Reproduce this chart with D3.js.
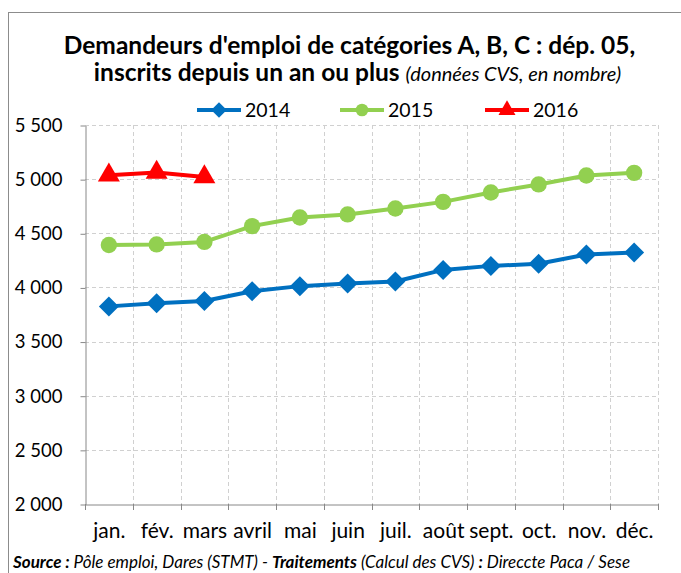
<!DOCTYPE html>
<html>
<head>
<meta charset="utf-8">
<script src="https://cdn.jsdelivr.net/npm/d3@7"></script>
<style>
  body { margin: 0; background: #fff; }
  text { font-family: Lato, "Open Sans", sans-serif; fill: #000; }
</style>
</head>
<body>
<div id="canvas"></div>
<script>
'use strict';

const months = ['jan.', 'fév.', 'mars', 'avril', 'mai', 'juin', 'juil.',
  'août', 'sept.', 'oct.', 'nov.', 'déc.'];
const values2014 = [3825, 3855, 3875, 3965, 4012, 4037, 4055, 4162, 4199,
  4218, 4304, 4323];
const values2015 = [4392, 4397, 4420, 4566, 4646, 4674, 4729, 4790, 4877,
  4951, 5034, 5058];
const values2016 = [5037, 5062, 5020];
const yTicks = [2000, 2500, 3000, 3500, 4000, 4500, 5000, 5500];

// Square diamond like the spreadsheet marker (d3's own is elongated).
const squareDiamond = {
  draw(context, size) {
    const r = Math.sqrt(size / 2);
    context.moveTo(0, -r);
    context.lineTo(r, 0);
    context.lineTo(0, r);
    context.lineTo(-r, 0);
    context.closePath();
  },
};

const series = [
  {key: '2014', values: values2014, color: '#0070c0', symbol: squareDiamond, size: 200},
  {key: '2015', values: values2015, color: '#92d050', symbol: d3.symbolCircle, size: 210},
  {key: '2016', values: values2016, color: '#ff0000', symbol: d3.symbolTriangle, size: 210},
];

const width = 681;
const height = 573;
// Plot area, in page pixels.
const plot = {left: 85, right: 658, top: 125, bottom: 504};

const svg = d3.select('#canvas').append('svg')
    .attr('width', width)
    .attr('height', height);

// Frame of the chart, it runs off the right and bottom of the picture.
svg.append('rect')
    .attr('x', 8.5)
    .attr('y', 12.5)
    .attr('width', 700)
    .attr('height', 600)
    .attr('fill', 'none')
    .attr('stroke', '#8c8c8c')
    .attr('stroke-width', 1);

const x = d3.scaleBand()
    .domain(months)
    .range([plot.left, plot.right]);
const y = d3.scaleLinear()
    .domain([2000, 5500])
    .range([plot.bottom, plot.top]);
const cx = m => x(m) + x.bandwidth() / 2;

const fmt = d3.formatLocale({thousands: '\u00a0', grouping: [3]}).format(',d');

// Grid lines.
svg.append('g')
    .selectAll('line')
    .data(yTicks.slice(1))
    .join('line')
    .attr('x1', plot.left)
    .attr('x2', plot.right)
    .attr('y1', d => Math.round(y(d)) + 0.5)
    .attr('y2', d => Math.round(y(d)) + 0.5)
    .attr('stroke', '#d0d0d0')
    .attr('stroke-dasharray', '4,3');
const bounds = months.slice(1).map(m => x(m)).concat([plot.right]);
svg.append('g')
    .selectAll('line')
    .data(bounds)
    .join('line')
    .attr('x1', d => Math.round(d) + 0.5)
    .attr('x2', d => Math.round(d) + 0.5)
    .attr('y1', plot.top)
    .attr('y2', plot.bottom)
    .attr('stroke', '#d0d0d0')
    .attr('stroke-dasharray', '4,3');

// Axes.
const yAxis = svg.append('g')
    .attr('transform', `translate(${plot.left + 0.5},0.5)`)
    .call(d3.axisLeft(y).tickValues(yTicks).tickFormat(fmt)
        .tickSize(5).tickPadding(18).tickSizeOuter(0));
yAxis.selectAll('text')
    .attr('font-size', 18.5)
    .attr('fill', '#000')
    .attr('font-family', 'Lato, sans-serif');

const xAxis = svg.append('g')
    .attr('transform', `translate(0.5,${plot.bottom + 0.5})`)
    .call(d3.axisBottom(x).tickSize(0).tickPadding(19).tickSizeOuter(0));
xAxis.selectAll('text')
    .attr('font-size', 21)
    .attr('fill', '#000')
    .attr('font-family', 'Lato, sans-serif');
svg.append('g')
    .selectAll('line')
    .data([plot.left].concat(bounds))
    .join('line')
    .attr('x1', d => Math.round(d) + 0.5)
    .attr('x2', d => Math.round(d) + 0.5)
    .attr('y1', plot.bottom)
    .attr('y2', plot.bottom + 6)
    .attr('stroke', '#888');
svg.selectAll('.domain').attr('stroke', '#888');
svg.selectAll('.tick line').attr('stroke', '#888');

// Lines and markers.
const line = d3.line()
    .x((d, i) => cx(months[i]))
    .y(d => y(d));
series.forEach(s => {
  svg.append('path')
      .datum(s.values)
      .attr('d', line)
      .attr('fill', 'none')
      .attr('stroke', s.color)
      .attr('stroke-width', 4)
      .attr('stroke-linejoin', 'round');
  svg.append('g')
      .selectAll('path')
      .data(s.values)
      .join('path')
      .attr('transform', (d, i) => `translate(${cx(months[i])},${y(d)})`)
      .attr('d', d3.symbol().type(s.symbol).size(s.size))
      .attr('fill', s.color);
});

// Legend.
const legendX = [197, 340, 485];
series.forEach((s, i) => {
  const g = svg.append('g')
      .attr('transform', `translate(${legendX[i]},110)`);
  g.append('line')
      .attr('x1', 0)
      .attr('x2', 44)
      .attr('stroke', s.color)
      .attr('stroke-width', 4);
  g.append('path')
      .attr('transform', 'translate(22,0)')
      .attr('d', d3.symbol().type(s.symbol).size(s.size * 0.6))
      .attr('fill', s.color);
  g.append('text')
      .attr('x', 48)
      .attr('y', 7)
      .attr('font-size', 19.5)
      .text(s.key);
});

// Titles.
svg.append('text')
    .attr('x', 349.5)
    .attr('y', 54)
    .attr('text-anchor', 'middle')
    .attr('font-size', 24.5)
    .attr('font-weight', 'bold')
    .text('Demandeurs d\'emploi de catégories A, B, C : dép. 05,');
const sub = svg.append('text')
    .attr('x', 357.5)
    .attr('y', 81)
    .attr('text-anchor', 'middle')
    .attr('font-size', 24.5);
sub.append('tspan')
    .attr('font-weight', 'bold')
    .text('inscrits depuis un an ou plus ');
sub.append('tspan')
    .attr('font-style', 'italic')
    .attr('font-size', 20)
    .text('(données CVS, en nombre)');

// Source line.
const src = svg.append('text')
    .attr('x', 13)
    .attr('y', 568)
    .attr('font-size', 17)
    .attr('font-style', 'italic');
src.append('tspan').attr('font-weight', 'bold').text('Source :');
src.append('tspan').text(' Pôle emploi, Dares (STMT) - ');
src.append('tspan').attr('font-weight', 'bold').text('Traitements');
src.append('tspan').text(' (Calcul des CVS) ');
src.append('tspan').attr('font-weight', 'bold').text(':');
src.append('tspan').text(' Direccte Paca / Sese');
</script>
</body>
</html>
